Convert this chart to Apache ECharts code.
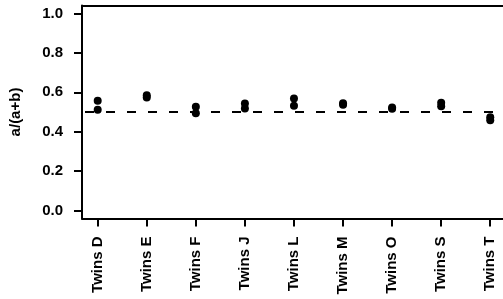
<!DOCTYPE html>
<html>
<head>
<meta charset="utf-8">
<script src="https://cdn.jsdelivr.net/npm/echarts@6/dist/echarts.min.js"></script>
<style>
  html, body { margin: 0; padding: 0; background: #fff; }
  #chart { width: 503px; height: 299px; }
</style>
</head>
<body>
<div id="chart"></div>
<script>
// twin pairs, two replicate values each
const categories = ['Twins D', 'Twins E', 'Twins F', 'Twins J', 'Twins L', 'Twins M', 'Twins O', 'Twins S', 'Twins T'];
const rep1 = [0.557, 0.585, 0.526, 0.543, 0.568, 0.545, 0.523, 0.547, 0.473];
const rep2 = [0.512, 0.574, 0.494, 0.518, 0.532, 0.537, 0.517, 0.529, 0.458];
const yTicks = [0, 0.2, 0.4, 0.6, 0.8, 1.0];
const refLine = 0.5;

const font = 'Liberation Sans, Arial, sans-serif';
const positions = categories.map((c, i) => i + 1);

const points = [];
categories.forEach((c, i) => {
  points.push([i + 1, rep1[i]]);
  points.push([i + 1, rep2[i]]);
});

const chart = echarts.init(document.getElementById('chart'));

chart.setOption({
  animation: false,
  grid: {
    left: 82,
    right: 0,
    top: 5.5,
    bottom: 80.5
  },
  xAxis: [{
    type: 'value',
    min: 0.68,
    max: 9.26,
    splitLine: { show: false },
    axisLine: { onZero: false, lineStyle: { color: '#000', width: 2 } },
    axisTick: { customValues: positions, length: 8, lineStyle: { color: '#000', width: 2 } },
    axisLabel: {
      customValues: positions,
      rotate: 90,
      margin: 18,
      formatter: v => categories[Math.round(v) - 1] || '',
      color: '#000',
      fontFamily: font,
      fontWeight: 'bold',
      fontSize: 15
    }
  }, {
    // top edge of the box
    type: 'value',
    position: 'top',
    min: 0.68,
    max: 9.26,
    splitLine: { show: false },
    axisLine: { onZero: false, lineStyle: { color: '#000', width: 2 } },
    axisTick: { show: false },
    axisLabel: { show: false }
  }],
  yAxis: {
    type: 'value',
    min: -0.04,
    max: 1.04,
    name: 'a/(a+b)',
    nameLocation: 'middle',
    nameGap: 59,
    nameTextStyle: { color: '#000', fontFamily: font, fontWeight: 'bold', fontSize: 15 },
    splitLine: { show: false },
    axisLine: { show: true, onZero: false, lineStyle: { color: '#000', width: 2 } },
    axisTick: { show: true, customValues: yTicks, length: 8, lineStyle: { color: '#000', width: 2 } },
    axisLabel: {
      customValues: yTicks,
      margin: 19,
      formatter: v => v.toFixed(1),
      color: '#000',
      fontFamily: font,
      fontWeight: 'bold',
      fontSize: 15
    }
  },
  series: [{
    type: 'scatter',
    data: points,
    symbol: 'circle',
    symbolSize: 8,
    itemStyle: { color: '#000', opacity: 1 },
    markLine: {
      silent: true,
      symbol: 'none',
      label: { show: false },
      lineStyle: { color: '#000', width: 2, type: [9, 12], dashOffset: 18 },
      data: [{ yAxis: refLine }]
    }
  }]
});
</script>
</body>
</html>
